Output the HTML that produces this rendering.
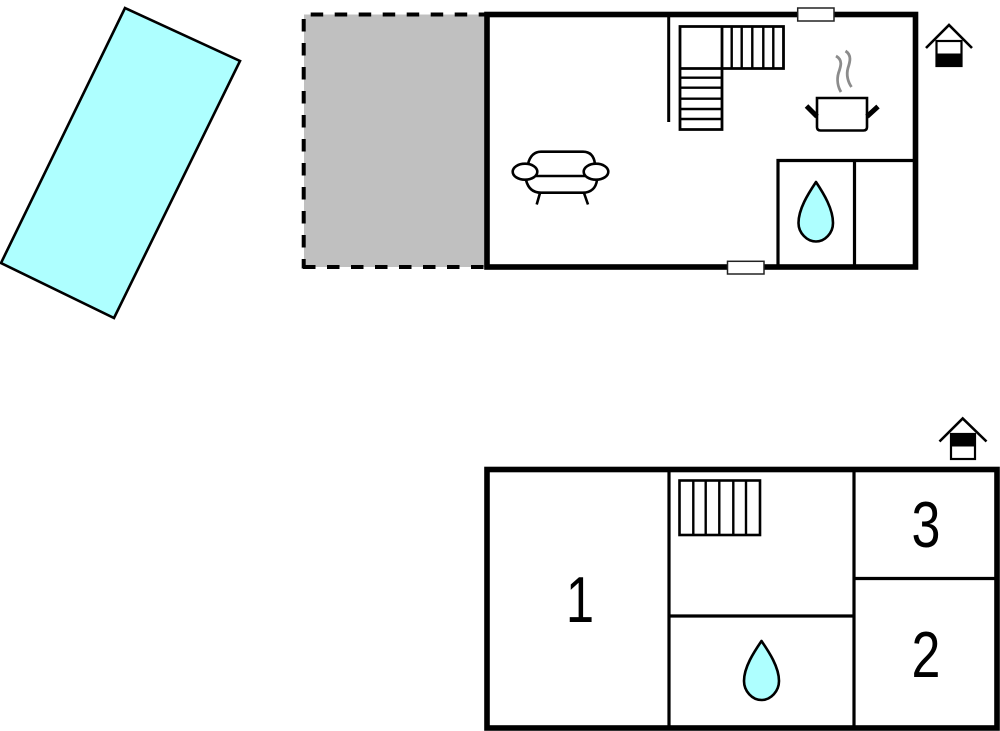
<!DOCTYPE html>
<html>
<head>
<meta charset="utf-8">
<style>
html,body{margin:0;padding:0;background:#fff;width:1000px;height:731px;overflow:hidden}
svg{display:block}
text{font-family:"Liberation Sans",sans-serif;font-size:65px;fill:#000;text-anchor:middle}
</style>
</head>
<body>
<svg width="1000" height="731" viewBox="0 0 1000 731" xmlns="http://www.w3.org/2000/svg">
<!-- pool -->
<polygon points="125,8 240,61 114,318 1,263" fill="#aeffff" stroke="#000" stroke-width="2.6" stroke-linejoin="miter"/>
<!-- terrace -->
<rect x="304" y="14.5" width="183" height="252.5" fill="#c0c0c0"/>
<g stroke="#000" stroke-width="4" fill="none">
<line x1="310.7" y1="14.5" x2="487" y2="14.5" stroke-dasharray="12.5 11.5"/>
<line x1="303.7" y1="19" x2="303.7" y2="268.5" stroke-dasharray="12.5 11.5"/>
<line x1="303" y1="267" x2="487" y2="267" stroke-dasharray="12.5 11.5"/>
</g>
<!-- upper building -->
<rect x="487" y="14.5" width="428.5" height="252.5" fill="none" stroke="#000" stroke-width="5.6"/>
<line x1="668.7" y1="14" x2="668.7" y2="122" stroke="#000" stroke-width="3"/>
<rect x="797.7" y="8" width="36.3" height="13" fill="#fff" stroke="#222" stroke-width="1.5"/>
<rect x="727.5" y="261.3" width="36.5" height="12.7" fill="#fff" stroke="#222" stroke-width="1.5"/>
<!-- stairs upper -->
<g fill="none" stroke="#000">
<path d="M680,26.5H783.5V68.5H722V129.5H680Z" stroke-width="2.8"/>
<path d="M722,26.5V68.5M680,68.5H722" stroke-width="2.8"/>
<path d="M731.7,26.5V68.5M741.7,26.5V68.5M752.3,26.5V68.5M763.3,26.5V68.5M773.3,26.5V68.5" stroke-width="2.4"/>
<path d="M680,77.7H722M680,87.7H722M680,98.7H722M680,109H722M680,119H722" stroke-width="2.4"/>
</g>
<!-- pot -->
<path d="M817,98H867V127Q867,130.5 863.5,130.5H820.5Q817,130.5 817,127Z" fill="#fff" stroke="#000" stroke-width="2.6"/>
<path d="M817,116.5L806.5,106M867,116.5L878,106.5" fill="none" stroke="#000" stroke-width="5"/>
<path d="M836,56C843,60 841,66 838.5,73C836.5,80 838,87 841,92M845.5,51C852,55 850,62 848,68C846,75 848,82 851.5,87" fill="none" stroke="#8c8c8c" stroke-width="2.8"/>
<!-- sofa -->
<g fill="none" stroke="#000" stroke-width="2.6">
<path d="M528,164C530,156 534,151.7 541,151.7H583C590,151.7 594,156 595,164"/>
<path d="M526,180C528,188 533,192.7 541,192.7H583C591,192.7 596,188 597,180"/>
<line x1="536" y1="176" x2="585" y2="176"/>
<path d="M540,193L536.7,204.5M584,193L588,204.5"/>
<ellipse cx="525" cy="171.7" rx="12.3" ry="8"/>
<ellipse cx="596" cy="171.7" rx="12.3" ry="8"/>
</g>
<!-- bathroom upper -->
<path d="M778,267V160.5H915M854.5,160.5V267" fill="none" stroke="#000" stroke-width="3.2"/>
<path d="M816,182C824,194 833,209 833,223C833,233 825,241.5 816,241.5C807,241.5 798.5,233 798.5,223C798.5,209 808,194 816,182Z" fill="#aeffff" stroke="#000" stroke-width="2.6" stroke-linejoin="round"/>
<!-- house icon upper -->
<path d="M926,48L949,25L972,48" fill="none" stroke="#000" stroke-width="2.6"/>
<rect x="936.5" y="41" width="25" height="25" fill="#fff" stroke="#000" stroke-width="2.2"/>
<rect x="936" y="53.5" width="26" height="13" fill="#000"/>
<!-- house icon lower -->
<path d="M939.5,441.5L962.7,418.5L986.5,441.5" fill="none" stroke="#000" stroke-width="2.6"/>
<rect x="951" y="434" width="24" height="25" fill="#fff" stroke="#000" stroke-width="2.2"/>
<rect x="950" y="433.5" width="26" height="13" fill="#000"/>
<!-- lower building -->
<rect x="487" y="469.5" width="510" height="258.5" fill="none" stroke="#000" stroke-width="5.6"/>
<g stroke="#000" stroke-width="3.2" fill="none">
<path d="M669,469.5V728M854,469.5V728M854,578.5H997M669,616H854"/>
</g>
<g fill="none" stroke="#000" stroke-width="2.4">
<rect x="679.5" y="480.5" width="80.5" height="54.5" stroke-width="2.6"/>
<path d="M693.3,480.5V535M705.7,480.5V535M719.3,480.5V535M733.3,480.5V535M746,480.5V535"/>
</g>
<path d="M761.5,641C769,652 779,667 779,681C779,691 771,700 761.5,700C752,700 744,691 744,681C744,667 754,652 761.5,641Z" fill="#aeffff" stroke="#000" stroke-width="2.6" stroke-linejoin="round"/>
<text transform="translate(580 622) scale(.78 1)">1</text>
<text transform="translate(926 547) scale(.8 1)">3</text>
<text transform="translate(926 677) scale(.8 1)">2</text>
</svg>
</body>
</html>
